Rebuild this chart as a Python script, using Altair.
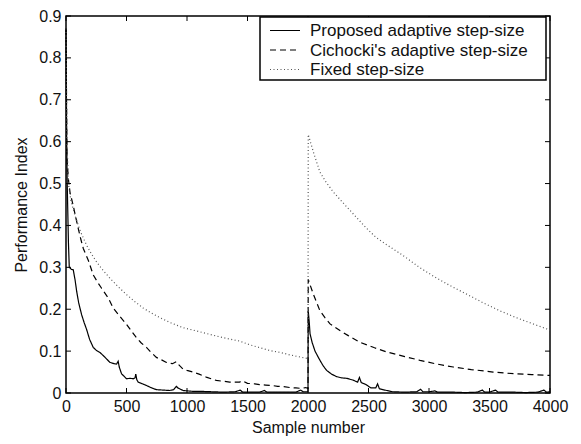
import altair as alt
import pandas as pd

series_names = ["Proposed adaptive step-size", "Cichocki's adaptive step-size", "Fixed step-size"]
series_colors = ["#000000", "#000000", "#555555"]
series_dashes = [[1, 0], [6, 4], [1, 2.5]]

proposed = [
    (0, 0.87), (5, 0.62), (10, 0.50), (20, 0.36), (27, 0.30), (45, 0.295), (60, 0.294), (75, 0.27),
    (88, 0.243), (105, 0.215), (129, 0.187), (150, 0.168), (170, 0.152), (195, 0.128), (225, 0.109),
    (250, 0.102), (280, 0.097), (320, 0.086), (363, 0.073), (400, 0.070), (418, 0.069), (431, 0.076),
    (440, 0.062), (459, 0.046), (480, 0.040), (500, 0.034), (530, 0.035), (555, 0.034), (570, 0.036),
    (577, 0.045), (585, 0.032), (596, 0.026), (630, 0.022), (665, 0.018), (700, 0.013), (747, 0.008),
    (800, 0.007), (857, 0.006), (890, 0.008), (912, 0.016), (925, 0.012), (967, 0.006), (1000, 0.005),
    (1050, 0.004), (1104, 0.004), (1200, 0.003), (1300, 0.002), (1400, 0.003), (1440, 0.007),
    (1460, 0.002), (1500, 0.002), (1600, 0.002), (1640, 0.006), (1660, 0.002), (1700, 0.002),
    (1800, 0.002), (1900, 0.002), (1940, 0.007), (1960, 0.003), (1999, 0.003),
    (2000, 0.003), (2002, 0.196), (2010, 0.17), (2017, 0.141), (2035, 0.12), (2058, 0.10), (2080, 0.088),
    (2099, 0.078), (2125, 0.065), (2154, 0.054), (2195, 0.045), (2237, 0.039), (2280, 0.036),
    (2320, 0.035), (2370, 0.031), (2410, 0.026), (2425, 0.037), (2440, 0.025), (2480, 0.02),
    (2520, 0.012), (2560, 0.012), (2575, 0.022), (2590, 0.01), (2650, 0.006), (2700, 0.003),
    (2800, 0.002), (2900, 0.003), (2930, 0.009), (2950, 0.003), (3000, 0.003), (3050, 0.005),
    (3070, 0.002), (3100, 0.002), (3200, 0.002), (3300, 0.001), (3400, 0.002), (3440, 0.007),
    (3460, 0.002), (3500, 0.002), (3550, 0.007), (3570, 0.002), (3600, 0.002), (3700, 0.002),
    (3800, 0.001), (3900, 0.002), (3950, 0.007), (3970, 0.002), (4000, 0.003),
]

cichocki = [
    (0, 0.87), (8, 0.56), (20, 0.51), (33, 0.479), (60, 0.447), (80, 0.42), (102, 0.392), (120, 0.37),
    (143, 0.345), (184, 0.317), (225, 0.282), (260, 0.265), (294, 0.25), (349, 0.227), (390, 0.203),
    (445, 0.183), (500, 0.164), (540, 0.148), (582, 0.132), (620, 0.12), (665, 0.109), (700, 0.098),
    (747, 0.085), (790, 0.079), (830, 0.073), (880, 0.07), (912, 0.075), (930, 0.068), (967, 0.057),
    (1000, 0.054), (1049, 0.05), (1100, 0.045), (1159, 0.038), (1200, 0.034), (1242, 0.03),
    (1300, 0.028), (1352, 0.026), (1400, 0.026), (1434, 0.026), (1460, 0.029), (1500, 0.023),
    (1560, 0.022), (1600, 0.02), (1650, 0.019), (1700, 0.018), (1750, 0.016), (1800, 0.015),
    (1850, 0.013), (1900, 0.012), (1950, 0.011), (1980, 0.013), (1999, 0.011),
    (2000, 0.011), (2002, 0.271), (2044, 0.236), (2099, 0.196), (2140, 0.18), (2182, 0.165),
    (2264, 0.149), (2333, 0.137), (2430, 0.121), (2550, 0.108), (2650, 0.098), (2800, 0.087),
    (2926, 0.078), (3050, 0.07), (3200, 0.062), (3350, 0.056), (3530, 0.05), (3700, 0.046),
    (3850, 0.044), (4000, 0.042),
]

fixed = [
    (0, 0.87), (8, 0.6), (20, 0.5), (40, 0.46), (74, 0.424), (120, 0.385), (170, 0.353), (210, 0.332),
    (253, 0.313), (300, 0.295), (363, 0.274), (430, 0.254), (500, 0.235), (570, 0.218), (637, 0.203),
    (700, 0.192), (775, 0.18), (870, 0.167), (967, 0.156), (1080, 0.148), (1187, 0.14), (1300, 0.132),
    (1434, 0.124), (1520, 0.115), (1603, 0.108), (1690, 0.101), (1770, 0.097), (1850, 0.091),
    (1934, 0.086), (1999, 0.082),
    (2000, 0.082), (2002, 0.617), (2050, 0.57), (2099, 0.527), (2150, 0.503), (2209, 0.48),
    (2280, 0.457), (2347, 0.436), (2420, 0.413), (2485, 0.393), (2560, 0.372), (2650, 0.354),
    (2740, 0.337), (2816, 0.322), (2920, 0.3), (3036, 0.279), (3170, 0.257), (3311, 0.236),
    (3450, 0.215), (3587, 0.196), (3720, 0.18), (3850, 0.166), (3973, 0.153), (4000, 0.15),
]

x_ticks = [0, 500, 1000, 1500, 2000, 2500, 3000, 3500, 4000]
y_ticks = [0, 0.1, 0.2, 0.3, 0.4, 0.5, 0.6, 0.7, 0.8, 0.9]

rows = []
for name, pts in zip(series_names, [proposed, cichocki, fixed]):
    for i, (xv, yv) in enumerate(pts):
        rows.append({"series": name, "x": xv, "y": yv, "i": i})
df = pd.DataFrame(rows)

W, H = 484, 377
FONT = "Liberation Sans"
TL = 5

xs = alt.Scale(domain=[0, 4000], nice=False, zero=False)
ys = alt.Scale(domain=[0, 0.9], nice=False)
x_axis = alt.Axis(values=x_ticks, format="d", title="Sample number")
y_axis = alt.Axis(values=y_ticks, format=".1~f", title="Performance Index")
x_enc = alt.X("x:Q", scale=xs, axis=x_axis)
y_enc = alt.Y("y:Q", scale=ys, axis=y_axis)

lines = alt.Chart(df).mark_line(strokeWidth=1.2).encode(
    x=x_enc,
    y=y_enc,
    color=alt.Color("series:N", scale=alt.Scale(domain=series_names, range=series_colors), legend=None),
    strokeDash=alt.StrokeDash("series:N", scale=alt.Scale(domain=series_names, range=series_dashes), legend=None),
    order="i:Q",
)

xt = pd.DataFrame({"x": x_ticks})
yt = pd.DataFrame({"y": y_ticks})
tick_style = dict(color="black", strokeWidth=1)
bottom = alt.Chart(xt).mark_rule(**tick_style).encode(x=x_enc, y=alt.value(H), y2=alt.value(H - TL))
top = alt.Chart(xt).mark_rule(**tick_style).encode(x=x_enc, y=alt.value(0), y2=alt.value(TL))
left = alt.Chart(yt).mark_rule(**tick_style).encode(y=y_enc, x=alt.value(0), x2=alt.value(TL))
right = alt.Chart(yt).mark_rule(**tick_style).encode(y=y_enc, x=alt.value(W), x2=alt.value(W - TL))

# hand-built legend box (layout in pixels relative to the plot area)
LX, LY, LW, LH = 194, 1, 286, 63
ROW0, ROWSTEP = 13.5, 19.5
legend_df = pd.DataFrame({"series": series_names})
box = alt.Chart(legend_df.iloc[[0]]).mark_rect(
    fill="white", stroke="black", strokeWidth=1.5
).encode(x=alt.value(LX), x2=alt.value(LX + LW), y=alt.value(LY), y2=alt.value(LY + LH))
legend_layers = [box]
for k, name in enumerate(series_names):
    one = legend_df.iloc[[k]]
    yy = LY + ROW0 + k * ROWSTEP
    legend_layers.append(
        alt.Chart(one).mark_rule(color=series_colors[k], strokeDash=series_dashes[k], strokeWidth=1.2).encode(
            x=alt.value(LX + 10), x2=alt.value(LX + 40), y=alt.value(yy)
        )
    )
    legend_layers.append(
        alt.Chart(one).mark_text(align="left", baseline="middle", font=FONT, fontSize=17, color="#111").encode(
            x=alt.value(LX + 50), y=alt.value(yy + 0.5), text="series:N"
        )
    )

chart = alt.layer(lines, bottom, top, left, right, *legend_layers).properties(
    width=W, height=H,
    autosize=alt.AutoSizeParams(type="none"),
    padding={"left": 58, "top": 8, "right": 23, "bottom": 43},
    background="white",
).configure_view(
    stroke="black", strokeWidth=1.5
).configure_axis(
    grid=False, domain=False, ticks=False, labelFlush=False, labelOverlap=False,
    labelFont=FONT, labelFontSize=16, labelColor="#111", labelPadding=5,
    titleFont=FONT, titleFontSize=16, titleFontWeight="normal", titleColor="#111",
).configure_axisX(titlePadding=5).configure_axisY(titlePadding=9)

chart.save("out.html", embed_options={"renderer": "svg", "actions": False})
